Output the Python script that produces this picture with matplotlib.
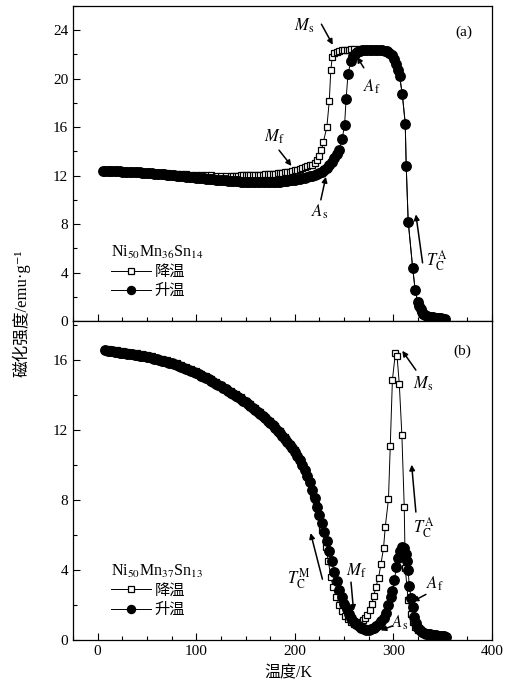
import matplotlib
matplotlib.use('Agg')
import matplotlib.pyplot as plt
from matplotlib.ticker import MultipleLocator

plt.rcParams['font.family'] = ['Liberation Serif', 'DejaVu Serif', 'Noto Sans CJK SC']
plt.rcParams['mathtext.fontset'] = 'stix'

# (a) Ni50Mn36Sn14, heating
t_heat_a = [5, 7.5, 10, 12.5, 15, 17.5, 20, 22.5, 25, 27.5, 30, 32.5, 35, 37.5, 40, 42.5, 45, 47.5,
            50, 52.5, 55, 57.5, 60, 62.5, 65, 67.5, 70, 72.5, 75, 77.5, 80, 82.5, 85, 87.5, 90,
            92.5, 95, 97.5, 100, 102.5, 105, 107.5, 110, 112.5, 115, 117.5, 120, 122.5, 125,
            127.5, 130, 132.5, 135, 137.5, 140, 142.5, 145, 147.5, 150, 152.5, 155, 157.5, 160,
            162.5, 165, 167.5, 170, 172.5, 175, 177.5, 180, 182.5, 185, 187.5, 190, 192.5, 195,
            197.5, 200, 202.5, 205, 207.5, 210, 212.5, 215, 217.5, 220, 222.5, 225, 227.5, 230,
            232.5, 235, 237.5, 240, 242.5, 245, 248, 250.5, 252, 254, 257, 259, 261, 263.5, 266,
            268.5, 271, 273.5, 276, 278.5, 281, 283.5, 286, 288.5, 291, 293.5, 296, 298.5, 301,
            303, 305, 306.5, 309, 312, 313, 315, 319.5, 322, 324.5, 326, 327.5, 329, 330.5, 332,
            334, 336, 338, 340, 342, 344, 346, 348, 350, 352]
m_heat_a = [12.40, 12.40, 12.40, 12.39, 12.38, 12.37, 12.36, 12.35, 12.34, 12.33, 12.32, 12.31,
            12.30, 12.29, 12.28, 12.26, 12.25, 12.23, 12.22, 12.20, 12.19, 12.17, 12.16, 12.14,
            12.12, 12.10, 12.08, 12.06, 12.04, 12.02, 12.00, 11.98, 11.96, 11.94, 11.92, 11.90,
            11.88, 11.86, 11.84, 11.82, 11.80, 11.78, 11.76, 11.74, 11.72, 11.70, 11.68, 11.66,
            11.64, 11.62, 11.60, 11.58, 11.57, 11.55, 11.54, 11.52, 11.51, 11.50, 11.49, 11.48,
            11.47, 11.46, 11.46, 11.45, 11.45, 11.45, 11.45, 11.45, 11.46, 11.47, 11.48, 11.49,
            11.51, 11.53, 11.55, 11.57, 11.60, 11.63, 11.66, 11.69, 11.73, 11.77, 11.82, 11.87,
            11.93, 11.99, 12.06, 12.14, 12.22, 12.33, 12.46, 12.63, 12.85, 13.15, 13.45, 13.75,
            14.15, 15.00, 16.20, 18.30, 20.40, 21.50, 21.85, 22.05, 22.18, 22.28, 22.33, 22.36,
            22.38, 22.40, 22.40, 22.40, 22.40, 22.38, 22.36, 22.32, 22.25, 22.12, 21.92, 21.60,
            21.20, 20.70, 20.20, 18.70, 16.30, 12.80, 8.20, 4.40, 2.60, 1.60, 1.25, 0.95, 0.75,
            0.60, 0.50, 0.42, 0.37, 0.33, 0.30, 0.28, 0.26, 0.24, 0.22, 0.20, 0.18]

# (a) Ni50Mn36Sn14, cooling
t_cool_a = [5, 10, 15, 20, 25, 30, 35, 40, 45, 50, 55, 60, 65, 70, 75, 80, 85, 90, 95, 100, 105,
            110, 115, 120, 125, 130, 135, 137.5, 140, 142.5, 145, 147.5, 150, 152.5, 155, 157.5,
            160, 162.5, 165, 167.5, 170, 172.5, 175, 177.5, 180, 182.5, 185, 187.5, 190, 192.5,
            195, 197.5, 200, 202.5, 205, 207.5, 210, 212.5, 215, 217.5, 220, 222.5, 225, 227,
            229, 232.5, 235, 236.5, 238, 240, 242.5, 245, 247.5, 250, 252.5, 255, 257.5, 260,
            265, 270, 275, 280, 285, 290, 294, 297, 300, 302, 304, 306, 309, 312, 313, 315,
            319.5, 322, 324.5, 327, 330, 334, 338, 342, 346, 350]
m_cool_a = [12.42, 12.41, 12.40, 12.38, 12.36, 12.34, 12.32, 12.30, 12.28, 12.26, 12.24, 12.22,
            12.20, 12.18, 12.16, 12.14, 12.12, 12.10, 12.08, 12.06, 12.04, 12.03, 12.02, 12.01,
            12.00, 12.00, 12.00, 12.00, 12.01, 12.01, 12.02, 12.02, 12.03, 12.04, 12.05, 12.05,
            12.06, 12.07, 12.08, 12.09, 12.10, 12.11, 12.13, 12.14, 12.16, 12.18, 12.20, 12.23,
            12.26, 12.29, 12.33, 12.38, 12.43, 12.49, 12.55, 12.62, 12.70, 12.77, 12.84, 12.90,
            13.05, 13.30, 13.60, 14.10, 14.80, 16.00, 18.20, 20.70, 21.80, 22.10, 22.22, 22.30,
            22.35, 22.38, 22.40, 22.41, 22.42, 22.42, 22.42, 22.42, 22.42, 22.42, 22.40, 22.35,
            22.24, 22.10, 21.85, 21.50, 21.00, 20.25, 18.75, 16.35, 12.85, 8.25, 4.45, 2.65,
            1.65, 1.05, 0.65, 0.45, 0.35, 0.28, 0.24, 0.20]

# (b) Ni50Mn37Sn13, heating
t_heat_b = [7.5, 10, 12.5, 15, 17.5, 20, 22.5, 25, 27.5, 30, 32.5, 35, 37.5, 40, 42.5, 45, 47.5,
            50, 52.5, 55, 57.5, 60, 62.5, 65, 67.5, 70, 72.5, 75, 77.5, 80, 82.5, 85, 87.5, 90,
            92.5, 95, 97.5, 100, 102.5, 105, 107.5, 110, 112.5, 115, 117.5, 120, 122.5, 125,
            127.5, 130, 132.5, 135, 137.5, 140, 142.5, 145, 147.5, 150, 152.5, 155, 157.5, 160,
            162.5, 165, 167.5, 170, 172.5, 175, 177.5, 180, 182.5, 185, 187.5, 190, 192.5, 195,
            197.5, 200, 202.5, 205, 207.5, 210, 212.5, 215, 217.5, 220, 222.5, 225, 227.5, 230,
            232.5, 235, 237.5, 240, 242.5, 245, 247.5, 250, 252.5, 255, 257.5, 260, 262.5, 265,
            267.5, 270, 272.5, 275, 277.5, 280, 282.5, 285, 287.5, 290, 292.5, 295, 297.5, 299,
            301, 303, 305, 307, 309, 311, 312.5, 314, 315, 316, 318, 319.5, 321, 323, 325, 327,
            329, 331, 333, 335, 337, 339, 341, 343, 345, 347, 349, 351, 353]
m_heat_b = [16.53, 16.50, 16.48, 16.46, 16.44, 16.42, 16.40, 16.38, 16.36, 16.34, 16.32, 16.30,
            16.28, 16.26, 16.23, 16.21, 16.18, 16.15, 16.12, 16.08, 16.05, 16.01, 15.98, 15.94,
            15.90, 15.86, 15.82, 15.78, 15.74, 15.69, 15.64, 15.59, 15.54, 15.48, 15.42, 15.36,
            15.30, 15.23, 15.16, 15.09, 15.02, 14.94, 14.87, 14.79, 14.71, 14.63, 14.55, 14.47,
            14.39, 14.30, 14.21, 14.12, 14.03, 13.94, 13.85, 13.75, 13.65, 13.55, 13.45, 13.34,
            13.23, 13.12, 13.01, 12.89, 12.77, 12.65, 12.52, 12.38, 12.24, 12.10, 11.95, 11.80,
            11.64, 11.47, 11.29, 11.10, 10.93, 10.75, 10.50, 10.25, 9.98, 9.70, 9.37, 9.00, 8.58,
            8.10, 7.60, 7.15, 6.70, 6.18, 5.62, 5.05, 4.48, 3.90, 3.35, 2.88, 2.45, 2.07, 1.75,
            1.47, 1.24, 1.05, 0.90, 0.78, 0.69, 0.62, 0.59, 0.58, 0.62, 0.69, 0.78, 0.90, 1.06,
            1.27, 1.55, 1.98, 2.45, 2.80, 3.40, 4.15, 4.70, 5.10, 5.30, 5.25, 4.90, 4.50, 4.00,
            3.10, 2.40, 1.90, 1.30, 0.95, 0.70, 0.55, 0.45, 0.40, 0.36, 0.34, 0.32, 0.30, 0.28,
            0.27, 0.25, 0.24, 0.22, 0.21, 0.19]

# (b) Ni50Mn37Sn13, cooling
t_cool_b = [10, 15, 20, 25, 30, 35, 40, 45, 50, 55, 60, 65, 70, 75, 80, 85, 90, 95, 100, 105,
            110, 115, 120, 125, 130, 135, 140, 145, 150, 155, 160, 165, 170, 175, 180, 185, 190,
            195, 200, 206, 210, 214, 218, 221.5, 224.7, 228, 231.5, 234, 236.5, 239, 242, 245,
            248, 251, 254, 257, 260, 263, 265, 267, 269, 271, 273.5, 276, 278, 280, 282, 285,
            287.3, 290, 291.7, 295, 296.8, 299, 302, 303.7, 306, 308.6, 311, 312, 315, 318,
            320, 322, 325, 330, 336, 342, 348, 353]
m_cool_b = [16.60, 16.56, 16.52, 16.48, 16.44, 16.40, 16.36, 16.31, 16.25, 16.18, 16.11, 16.04,
            15.96, 15.88, 15.79, 15.69, 15.58, 15.46, 15.33, 15.19, 15.04, 14.89, 14.73, 14.57,
            14.40, 14.22, 14.04, 13.85, 13.65, 13.44, 13.22, 12.99, 12.75, 12.48, 12.20, 11.90,
            11.57, 11.20, 10.85, 10.20, 9.70, 9.00, 8.30, 7.70, 7.10, 6.30, 5.30, 4.50, 3.60,
            3.00, 2.45, 2.00, 1.65, 1.38, 1.18, 1.02, 0.92, 0.88, 0.90, 1.00, 1.12, 1.25, 1.45,
            1.70, 2.05, 2.50, 3.00, 3.55, 4.32, 5.24, 6.42, 8.04, 11.05, 14.84, 16.36, 16.20,
            14.60, 11.70, 7.60, 4.10, 2.27, 1.50, 1.05, 0.75, 0.55, 0.40, 0.32, 0.27, 0.22, 0.19]

x_ticks = [0, 100, 200, 300, 400]

fig = plt.figure(figsize=(5.17, 6.93), dpi=100)
ax1 = fig.add_axes([0.1412, 0.5368, 0.8104, 0.4545])
ax2 = fig.add_axes([0.1412, 0.0765, 0.8104, 0.4603])

cjk = ['Noto Sans CJK SC']


def draw(ax, tc, mc, th, mh, title):
    ax.plot(tc, mc, '-', color='k', lw=0.7, marker='s', ms=5.0, mfc='white', mec='k',
            mew=0.9, label='降温')
    ax.plot(th, mh, '-', color='k', lw=0.7, marker='o', ms=6.8, mfc='k', mec='k',
            label='升温')
    ax.set_xlim(-25, 400)
    ax.xaxis.set_major_locator(MultipleLocator(100))
    ax.xaxis.set_minor_locator(MultipleLocator(25))
    ax.yaxis.set_major_locator(MultipleLocator(4))
    ax.yaxis.set_minor_locator(MultipleLocator(2))
    ax.tick_params(which='both', direction='in', top=False, right=False, labelsize=11)
    ax.tick_params(which='major', length=5, width=0.8)
    ax.tick_params(which='minor', length=3, width=0.8)
    for s in ax.spines.values():
        s.set_linewidth(0.9)
    leg = ax.legend(loc='lower left', bbox_to_anchor=(0.065, 0.035), frameon=False,
                    title=title, prop={'family': cjk, 'size': 11}, title_fontsize=11.5,
                    handlelength=2.6, handletextpad=0.25, labelspacing=0.15,
                    borderpad=0.2, alignment='left', markerscale=0.85)
    return leg


draw(ax1, t_cool_a, m_cool_a, t_heat_a, m_heat_a, 'Ni$_{50}$Mn$_{36}$Sn$_{14}$')
draw(ax2, t_cool_b, m_cool_b, t_heat_b, m_heat_b, 'Ni$_{50}$Mn$_{37}$Sn$_{13}$')

ax1.set_ylim(0, 26)
ax1.tick_params(labelbottom=False)
ax2.set_ylim(0, 18.2)
ax2.set_xticks(x_ticks)

arrow = dict(arrowstyle='-|>', color='k', lw=1.1, mutation_scale=8, shrinkA=0, shrinkB=0)
fs = 12

# panel (a) labels
ax1.text(371, 23.8, '(a)', fontsize=11, ha='center', va='center')
ax1.text(209, 24.4, r'$M_{\rm s}$', fontsize=fs, ha='center', va='center')
ax1.annotate('', xy=(238.5, 22.8), xytext=(227, 24.5), arrowprops=arrow)
ax1.text(278, 19.3, r'$A_{\rm f}$', fontsize=fs, ha='center', va='center')
ax1.annotate('', xy=(263, 21.8), xytext=(270, 20.9), arrowprops=arrow)
ax1.text(179, 15.2, r'$M_{\rm f}$', fontsize=fs, ha='center', va='center')
ax1.annotate('', xy=(196.6, 12.8), xytext=(184, 14.1), arrowprops=arrow)
ax1.text(225, 9.0, r'$A_{\rm s}$', fontsize=fs, ha='center', va='center')
ax1.annotate('', xy=(231.5, 11.9), xytext=(226.4, 10.0), arrowprops=arrow)
ax1.text(344, 5.0, r'$T_{\rm C}^{\rm A}$', fontsize=fs, ha='center', va='center')
ax1.annotate('', xy=(322.8, 8.8), xytext=(329.6, 4.8), arrowprops=arrow)

# panel (b) labels
ax2.text(370, 16.5, '(b)', fontsize=11, ha='center', va='center')
ax2.text(330, 14.6, r'$M_{\rm s}$', fontsize=fs, ha='center', va='center')
ax2.annotate('', xy=(309, 16.5), xytext=(322.8, 15.4), arrowprops=arrow)
ax2.text(331, 6.4, r'$T_{\rm C}^{\rm A}$', fontsize=fs, ha='center', va='center')
ax2.annotate('', xy=(318.5, 10.0), xytext=(322.8, 7.3), arrowprops=arrow)
ax2.text(342, 3.2, r'$A_{\rm f}$', fontsize=fs, ha='center', va='center')
ax2.annotate('', xy=(319.5, 2.2), xytext=(333, 2.6), arrowprops=arrow)
ax2.text(306, 1.0, r'$A_{\rm s}$', fontsize=fs, ha='center', va='center')
ax2.annotate('', xy=(287, 0.55), xytext=(299, 0.8), arrowprops=arrow)
ax2.text(262, 3.95, r'$M_{\rm f}$', fontsize=fs, ha='center', va='center')
ax2.annotate('', xy=(259.6, 1.66), xytext=(257, 3.3), arrowprops=arrow)
ax2.text(204, 3.5, r'$T_{\rm C}^{\rm M}$', fontsize=fs, ha='center', va='center')
ax2.annotate('', xy=(216, 6.1), xytext=(228, 3.47), arrowprops=arrow)

fig.text(0.557, 0.017, '温度/K', fontsize=11.5, ha='center', va='bottom')
fig.text(0.042, 0.548, '磁化强度/emu·g⁻¹', fontsize=12, rotation=90,
         ha='center', va='center')

fig.savefig('out.png', dpi=100)
